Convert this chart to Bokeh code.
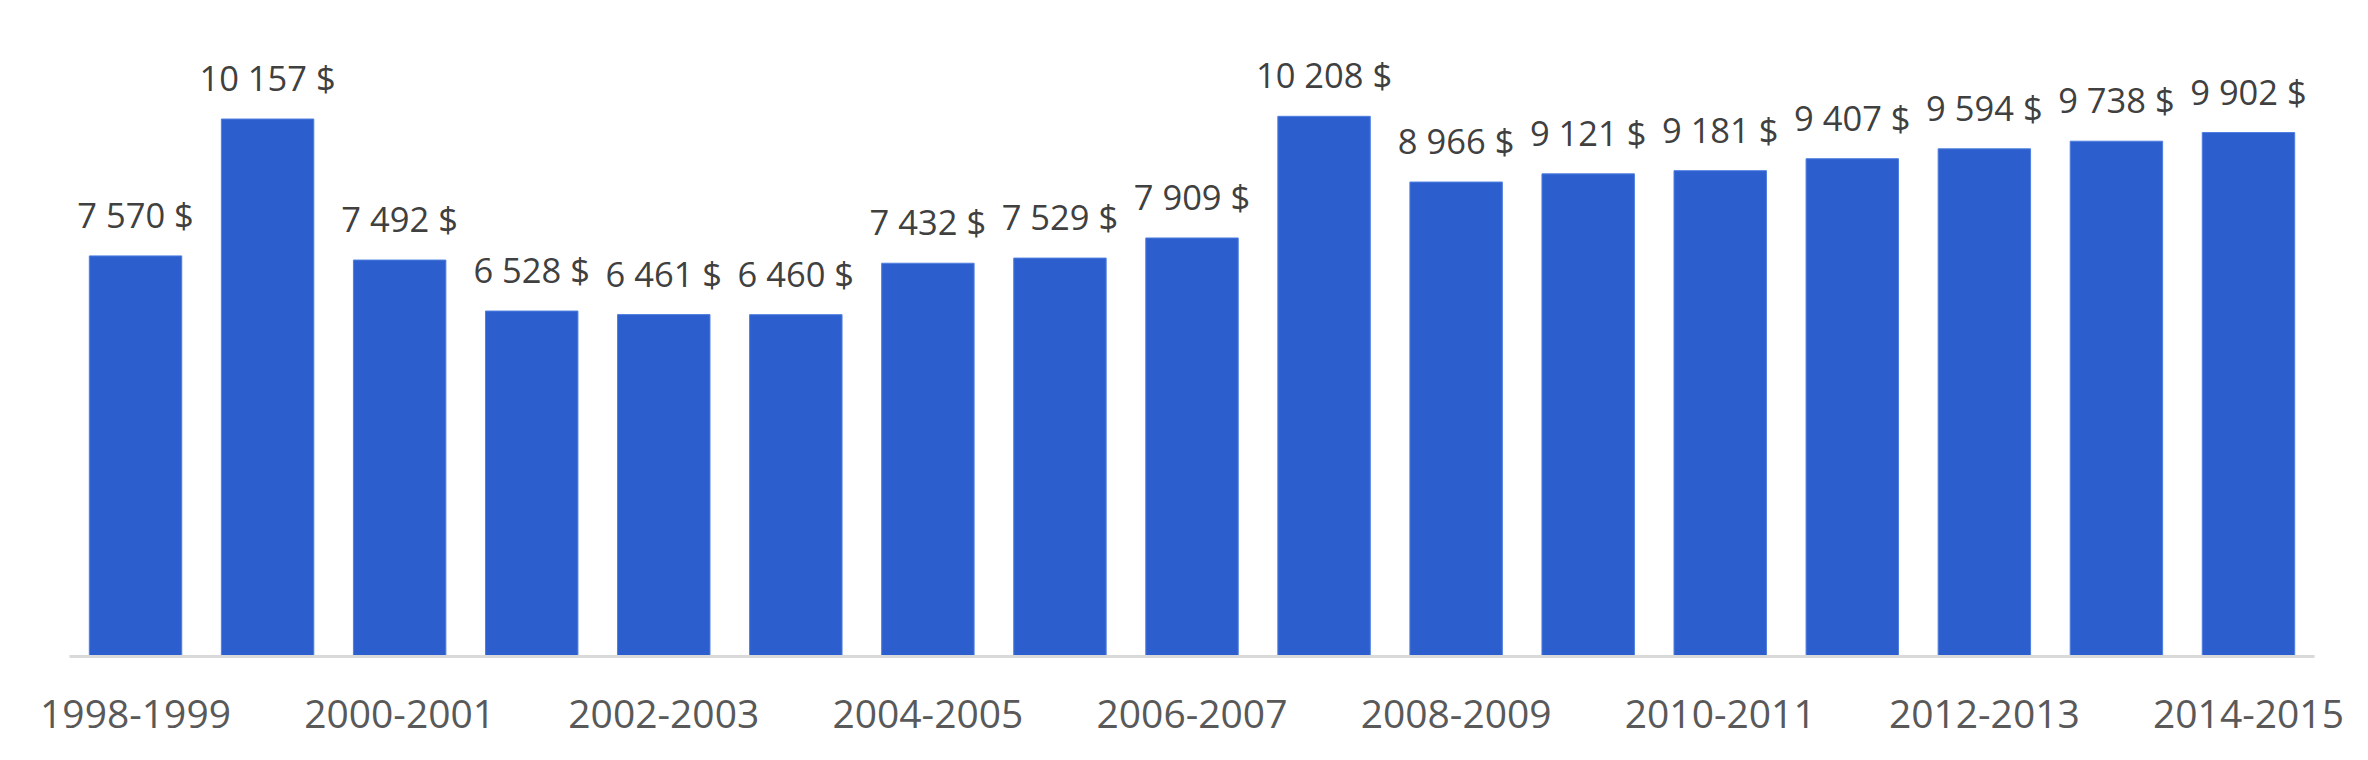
from bokeh.plotting import figure
from bokeh.models import ColumnDataSource, Range1d, FixedTicker, LabelSet
from bokeh.core.properties import value
from bokeh.embed import file_html
from bokeh.resources import INLINE

# ---- data ----
categories = ["1998-1999", "1999-2000", "2000-2001", "2001-2002", "2002-2003",
              "2003-2004", "2004-2005", "2005-2006", "2006-2007", "2007-2008",
              "2008-2009", "2009-2010", "2010-2011", "2011-2012", "2012-2013",
              "2013-2014", "2014-2015"]
values = [7570, 10157, 7492, 6528, 6461, 6460, 7432, 7529, 7909, 10208,
          8966, 9121, 9181, 9407, 9594, 9738, 9902]
shown_tick_labels = ["1998-1999", "2000-2001", "2002-2003", "2004-2005", "2006-2007",
                     "2008-2009", "2010-2011", "2012-2013", "2014-2015"]

idx = list(range(len(categories)))
value_labels = [f"{v:,}".replace(",", " ") + " $" for v in values]

src = ColumnDataSource(dict(x=idx, top=values, label=value_labels))

FONT = "Open Sans"

p = figure(width=2352, height=744, output_backend="svg", toolbar_location=None,
           x_range=Range1d(-0.5, len(categories) - 0.5), y_range=Range1d(0, 12000),
           min_border_left=69, min_border_right=38, min_border_top=21, min_border_bottom=88)

p.vbar(x="x", top="top", width=0.70, source=src, fill_color="#2C5FCD",
       line_color="#4F7EE0", line_width=1)

labels = LabelSet(x="x", y="top", text="label", source=src, y_offset=28,
                  text_align="center", text_baseline="alphabetic",
                  text_font=value(FONT), text_font_size="34.5px", text_color="#404040")
p.add_layout(labels)

tick_pos = [categories.index(c) for c in shown_tick_labels]
p.xaxis.ticker = FixedTicker(ticks=tick_pos)
p.xaxis.major_label_overrides = {i: categories[i] for i in tick_pos}
p.xaxis.major_tick_line_color = None
p.xaxis.minor_tick_line_color = None
p.xaxis.axis_line_color = "#D9D9D9"
p.xaxis.axis_line_width = 3
p.xaxis.major_label_text_font = FONT
p.xaxis.major_label_text_font_size = "39px"
p.xaxis.major_label_text_color = "#595959"
p.xaxis.major_label_standoff = 37

p.yaxis.visible = False
p.xgrid.visible = False
p.ygrid.visible = False
p.outline_line_color = None

open("out.html", "w").write(file_html(p, INLINE))
